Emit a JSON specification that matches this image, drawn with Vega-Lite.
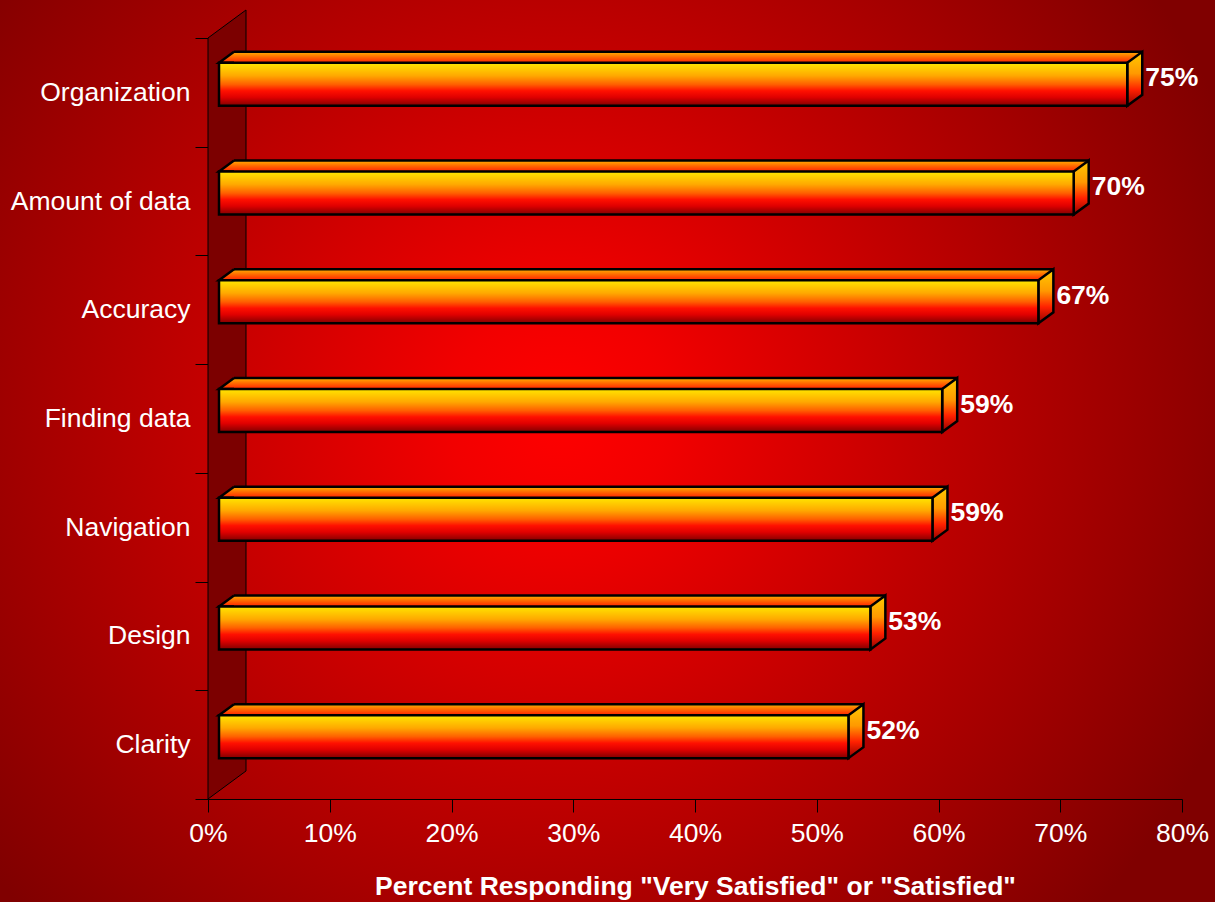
{
  "$schema": "https://vega.github.io/schema/vega-lite/v6.json",
  "width": 1215,
  "height": 902,
  "autosize": "none",
  "padding": 0,
  "background": "#800000",
  "config": {
    "font": "Liberation Sans",
    "view": {
      "stroke": null,
      "fill": {
        "gradient": "radial",
        "x1": 0.46, "y1": 0.47, "x2": 0.46, "y2": 0.47, "r1": 0, "r2": 0.6,
        "stops": [
          {"offset": 0, "color": "#FF0000"},
          {"offset": 0.15, "color": "#F20000"},
          {"offset": 0.5, "color": "#C20000"},
          {"offset": 1, "color": "#800000"}
        ]
      }
    }
  },
  "data": {
    "values": [
      {"item": "Organization", "pct": 74.6, "label": "75%"},
      {"item": "Amount of data", "pct": 70.2, "label": "70%"},
      {"item": "Accuracy", "pct": 67.3, "label": "67%"},
      {"item": "Finding data", "pct": 59.4, "label": "59%"},
      {"item": "Navigation", "pct": 58.6, "label": "59%"},
      {"item": "Design", "pct": 53.5, "label": "53%"},
      {"item": "Clarity", "pct": 51.7, "label": "52%"}
    ]
  },
  "encoding": {
    "y": {
      "field": "item",
      "type": "nominal",
      "sort": null,
      "scale": {"range": [38, 799], "paddingInner": 0, "paddingOuter": 0},
      "axis": {
        "orient": "left",
        "offset": -208,
        "title": null,
        "tickBand": "extent",
        "tickSize": 13,
        "tickColor": "black",
        "tickWidth": 1,
        "domainColor": "black",
        "domainWidth": 1,
        "labelColor": "white",
        "labelFontSize": 26.5,
        "labelFont": "Liberation Sans",
        "labelPadding": 5,
        "labelLimit": 400,
        "grid": false
      }
    }
  },
  "layer": [
    {
      "mark": {
        "type": "bar",
        "size": 43,
        "xOffset": 11,
        "x2Offset": 11,
        "yOffset": -8,
        "fill": "transparent",
        "strokeWidth": 0
      },
      "encoding": {
        "x": {
          "field": "pct",
          "type": "quantitative",
          "title": "Percent Responding \"Very Satisfied\" or \"Satisfied\"",
          "scale": {"domain": [0, 80], "range": [208, 1182], "nice": false, "zero": true},
          "axis": {
            "orient": "bottom",
            "offset": -103,
            "values": [0, 10, 20, 30, 40, 50, 60, 70, 80],
            "labelExpr": "datum.value + '%'",
            "tickSize": 13,
            "tickColor": "black",
            "tickWidth": 1,
            "domainColor": "black",
            "domainWidth": 1,
            "labelColor": "white",
            "labelFontSize": 26.5,
            "labelFont": "Liberation Sans",
            "labelPadding": 8,
            "labelFlush": false,
            "labelOverlap": false,
            "grid": false,
            "titleColor": "white",
            "titleFont": "Liberation Sans",
            "titleFontSize": 26.5,
            "titleFontWeight": "bold",
            "titlePadding": 27
          }
        }
      }
    },
    {
      "transform": [{"filter": "datum.item === 'Organization'"}],
      "mark": {
        "type": "point",
        "shape": "M0,0 L38,-28 L38,733 L0,761 Z",
        "size": 4,
        "filled": true,
        "fill": "#7C0000",
        "stroke": "black",
        "strokeWidth": 1,
        "opacity": 1,
        "yOffset": -54.36
      },
      "encoding": {
        "x": {"datum": 0, "type": "quantitative", "title": "Percent Responding \"Very Satisfied\" or \"Satisfied\""}
      }
    },
    {
      "mark": {
        "type": "bar",
        "size": 11,
        "xOffset": 26,
        "x2Offset": 26,
        "yOffset": -35,
        "fill": {
          "gradient": "linear", "x1": 0, "y1": 0, "x2": 0, "y2": 1,
          "stops": [
            {"offset": 0, "color": "#FFB000"},
            {"offset": 0.5, "color": "#FF6600"},
            {"offset": 1, "color": "#FF2200"}
          ]
        },
        "strokeWidth": 0
      },
      "encoding": {
        "x": {"field": "pct", "type": "quantitative", "title": "Percent Responding \"Very Satisfied\" or \"Satisfied\""}
      }
    },
    {
      "mark": {
        "type": "bar",
        "size": 2.5,
        "xOffset": 26,
        "x2Offset": 26,
        "yOffset": -40.5,
        "fill": "black",
        "strokeWidth": 0
      },
      "encoding": {
        "x": {"field": "pct", "type": "quantitative", "title": "Percent Responding \"Very Satisfied\" or \"Satisfied\""}
      }
    },
    {
      "mark": {
        "type": "point",
        "shape": "M15,0 L0,0 L15,-11",
        "size": 4,
        "filled": true,
        "fill": {
          "gradient": "linear", "x1": 0, "y1": 0, "x2": 0, "y2": 1,
          "stops": [
            {"offset": 0, "color": "#FFB000"},
            {"offset": 0.5, "color": "#FF6600"},
            {"offset": 1, "color": "#FF2200"}
          ]
        },
        "stroke": "black",
        "strokeWidth": 2.5,
        "opacity": 1,
        "xOffset": 11,
        "yOffset": -29.5
      },
      "encoding": {
        "x": {"datum": 0, "type": "quantitative", "title": "Percent Responding \"Very Satisfied\" or \"Satisfied\""}
      }
    },
    {
      "mark": {
        "type": "point",
        "shape": "M0,0 L15,-11 L15,32 L0,43 Z",
        "size": 4,
        "filled": true,
        "fill": {
          "gradient": "linear", "x1": 0, "y1": 0, "x2": 0, "y2": 1,
          "stops": [
            {"offset": 0, "color": "#FFCC00"},
            {"offset": 0.4, "color": "#FF9900"},
            {"offset": 0.7, "color": "#FF2000"},
            {"offset": 1, "color": "#900000"}
          ]
        },
        "stroke": "black",
        "strokeWidth": 2.5,
        "strokeJoin": "miter",
        "opacity": 1,
        "xOffset": 11,
        "yOffset": -29.5
      },
      "encoding": {
        "x": {"field": "pct", "type": "quantitative", "title": "Percent Responding \"Very Satisfied\" or \"Satisfied\""}
      }
    },
    {
      "mark": {
        "type": "bar",
        "size": 43,
        "xOffset": 11,
        "x2Offset": 11,
        "yOffset": -8,
        "fill": {
          "gradient": "linear", "x1": 0, "y1": 0, "x2": 0, "y2": 1,
          "stops": [
            {"offset": 0, "color": "#FFE600"},
            {"offset": 0.3, "color": "#FFA800"},
            {"offset": 0.5, "color": "#FF6000"},
            {"offset": 0.65, "color": "#FF1000"},
            {"offset": 0.8, "color": "#E00000"},
            {"offset": 1, "color": "#800000"}
          ]
        },
        "stroke": "black",
        "strokeWidth": 2.5,
        "strokeJoin": "miter"
      },
      "encoding": {
        "x": {"field": "pct", "type": "quantitative", "title": "Percent Responding \"Very Satisfied\" or \"Satisfied\""}
      }
    },
    {
      "mark": {
        "type": "text",
        "align": "left",
        "baseline": "middle",
        "xOffset": 29,
        "yOffset": -14,
        "fontSize": 26.5,
        "fontWeight": "bold",
        "font": "Liberation Sans",
        "fill": "white"
      },
      "encoding": {
        "x": {"field": "pct", "type": "quantitative", "title": "Percent Responding \"Very Satisfied\" or \"Satisfied\""},
        "text": {"field": "label"}
      }
    }
  ]
}
